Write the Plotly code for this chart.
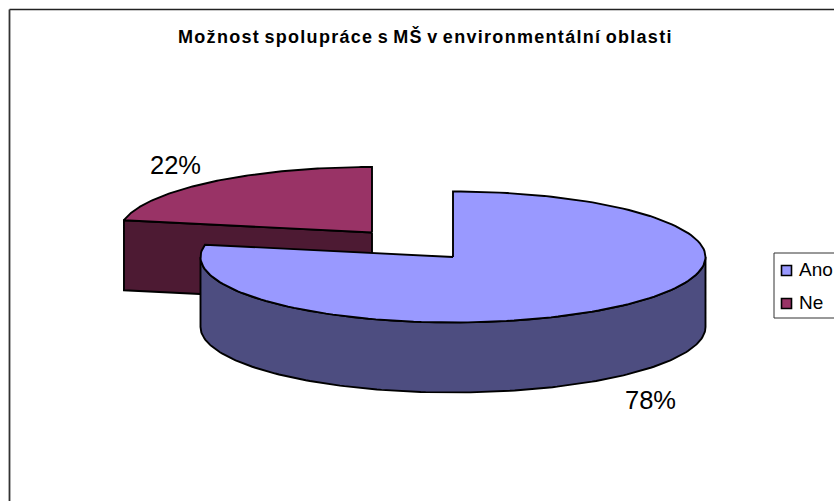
import numpy as np
import plotly.graph_objects as go

categories = ["Ano", "Ne"]
values = [78, 22]
top_colors = ["#9999FF", "#993366"]
side_colors = ["#4D4D80", "#4D1A33"]
title_text = "Možnost spolupráce s MŠ v environmentální oblasti"

W, H = 834, 501
RX, RY, DEPTH = 252.5, 65.5, 70
centers = {"Ano": (453, 257), "Ne": (372, 232.5)}
label_pos = {"Ano": (650, 400), "Ne": (175, 165)}
FONT = "Liberation Sans, Arial, sans-serif"

total = sum(values)
fractions = np.cumsum([0] + values) / total * 2 * np.pi
spans = {c: (fractions[i], fractions[i + 1]) for i, c in enumerate(categories)}


def rim(cx, cy, a0, a1, dy=0, n=160):
    t = np.linspace(a0, a1, n)
    return cx + RX * np.sin(t), cy - RY * np.cos(t) + dy


def poly(fig, xs, ys, color):
    fig.add_trace(go.Scatter(
        x=np.append(xs, xs[0]), y=np.append(ys, ys[0]), mode="lines", fill="toself",
        fillcolor=color, line=dict(color="black", width=1.9),
        hoverinfo="skip", showlegend=False,
    ))


def draw_slice(fig, name):
    i = categories.index(name)
    cx, cy = centers[name]
    a0, a1 = spans[name]
    # outer wall: the part of the rim facing the viewer (90 to 270 degrees)
    lo, hi = max(a0, np.pi / 2), min(a1, 3 * np.pi / 2)
    if lo < hi:
        x1, y1 = rim(cx, cy, lo, hi)
        x2, y2 = rim(cx, cy, lo, hi, DEPTH)
        poly(fig, np.r_[x1, x2[::-1]], np.r_[y1, y2[::-1]], side_colors[i])
    # cut face for a slice whose start edge faces the viewer
    if name == "Ne":
        x1, y1 = rim(cx, cy, a0, a0, n=1)
        poly(fig, np.r_[cx, x1, x1, cx], np.r_[cy, y1, y1 + DEPTH, cy + DEPTH], side_colors[i])
    # top surface
    xt, yt = rim(cx, cy, a0, a1)
    poly(fig, np.r_[cx, xt], np.r_[cy, yt], top_colors[i])


fig = go.Figure()
draw_slice(fig, "Ne")
draw_slice(fig, "Ano")

# hand-placed legend, matching the clipped box in the reference
legend_y = {"Ano": 270.5, "Ne": 303.5}
for i, c in enumerate(categories):
    fig.add_trace(go.Scatter(
        x=[786.5], y=[legend_y[c]], mode="markers", name=c,
        marker=dict(symbol="square", size=10, color=top_colors[i], line=dict(color="black", width=1.6)),
        hoverinfo="skip", showlegend=False,
    ))
    fig.add_annotation(x=796.5, y=legend_y[c] - 1.5, text=c, showarrow=False, xanchor="left", yanchor="middle",
                       xref="x", yref="y", font=dict(family=FONT, size=19, color="black"))

for i, c in enumerate(categories):
    lx, ly = label_pos[c]
    fig.add_annotation(x=lx, y=ly, text=f"{values[i]}%", showarrow=False, xanchor="center", yanchor="middle",
                       xref="x", yref="y", font=dict(family=FONT, size=25.5, color="black"))

fig.add_annotation(x=425, y=36,
                   text=f'<b><span style="letter-spacing:1.3px;word-spacing:-2px">{title_text}</span></b>',
                   showarrow=False, xanchor="center", yanchor="middle",
                   xref="x", yref="y", font=dict(family=FONT, size=18, color="black"))

fig.update_layout(
    width=W, height=H, margin=dict(l=0, r=0, t=0, b=0, autoexpand=False),
    paper_bgcolor="white", plot_bgcolor="white", showlegend=False,
    xaxis=dict(range=[0, W], visible=False, fixedrange=True),
    yaxis=dict(range=[H, 0], visible=False, fixedrange=True),
    shapes=[
        dict(type="line", xref="x", yref="y", x0=9.5, x1=W, y0=9.5, y1=9.5, line=dict(color="#222222", width=1.5)),
        dict(type="line", xref="x", yref="y", x0=9.5, x1=9.5, y0=9.5, y1=H, line=dict(color="#333333", width=1.8)),
        dict(type="rect", xref="x", yref="y", x0=774, x1=W + 20, y0=253, y1=318,
             line=dict(color="#333333", width=1), fillcolor="white", layer="below"),
    ],
)
fig.write_html("out.html", config={"displayModeBar": False},
               post_script="document.body.style.margin='0';document.documentElement.style.overflow='hidden';")
